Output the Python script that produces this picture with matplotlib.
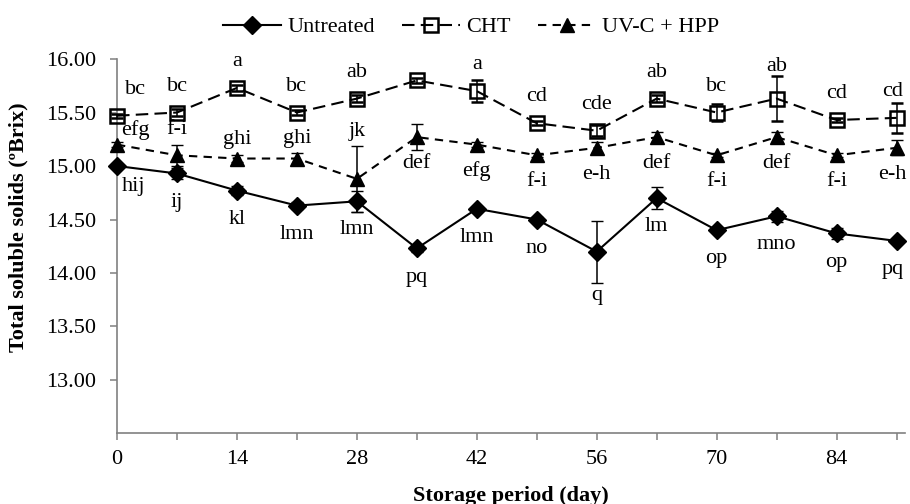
import numpy as np
import matplotlib
matplotlib.use("Agg")
import matplotlib.pyplot as plt
from matplotlib.lines import Line2D

plt.rcParams['font.family'] = ['Liberation Serif', 'DejaVu Serif']

days = [0, 7, 14, 21, 28, 35, 42, 49, 56, 63, 70, 77, 84, 91]

untreated = [15.00, 14.93, 14.77, 14.63, 14.67, 14.23, 14.60, 14.50, 14.20, 14.70, 14.40, 14.53, 14.37, 14.30]
untreated_err = [0.02, 0.05, 0.04, 0.03, 0.10, 0.03, 0.02, 0.02, 0.29, 0.10, 0.02, 0.05, 0.05, 0.02]
untreated_lbl = ['hij', 'ij', 'kl', 'lmn', 'lmn', 'pq', 'lmn', 'no', 'q', 'lm', 'op', 'mno', 'op', 'pq']

cht = [15.47, 15.50, 15.73, 15.50, 15.63, 15.80, 15.70, 15.40, 15.33, 15.63, 15.50, 15.63, 15.43, 15.45]
cht_err = [0.02, 0.03, 0.03, 0.02, 0.03, 0.02, 0.10, 0.02, 0.05, 0.03, 0.08, 0.21, 0.02, 0.14]
cht_lbl = ['bc', 'bc', 'a', 'bc', 'ab', 'a', 'a', 'cd', 'cde', 'ab', 'bc', 'ab', 'cd', 'cd']

uv = [15.20, 15.10, 15.07, 15.07, 14.88, 15.27, 15.20, 15.10, 15.17, 15.27, 15.10, 15.27, 15.10, 15.17]
uv_err = [0.02, 0.10, 0.03, 0.05, 0.31, 0.12, 0.02, 0.02, 0.05, 0.05, 0.02, 0.05, 0.02, 0.07]
uv_lbl = ['efg', 'f-i', 'ghi', 'ghi', 'jk', 'def', 'efg', 'f-i', 'e-h', 'def', 'f-i', 'def', 'f-i', 'e-h']

fig = plt.figure(figsize=(9.1, 5.04), dpi=100)
ax = fig.add_axes([0.1286, 0.1399, 0.866, 0.743])

lw = 1.5
cht_dash = (6, 3)
uv_dash = (4, 3)
eb1 = ax.errorbar(days, untreated, yerr=untreated_err, color='black', lw=lw, marker='D', ms=9.5,
                  capsize=4, elinewidth=1.1, zorder=3)
eb2 = ax.errorbar(days, cht, yerr=cht_err, color='black', lw=lw, marker='s', ms=9.5, mfc='none',
                  mew=1.8, dashes=cht_dash, capsize=4, elinewidth=1.1, zorder=4)
eb3 = ax.errorbar(days, uv, yerr=uv_err, color='black', lw=lw, marker='^', ms=10,
                  dashes=uv_dash, capsize=4, elinewidth=1.1, zorder=3)
for eb in [eb1, eb2, eb3]:
    for art in eb.get_children():
        art.set_clip_on(False)

fs = 16
last = len(days) - 1
for i, d in enumerate(days):
    dx = 0
    if i == 0:
        dx = 13
    elif i == last:
        dx = -3
    # CHT letters above the points
    y = max(cht[i] + 0.205, cht[i] + cht_err[i] + 0.05)
    ax.annotate(cht_lbl[i], (d, y), xytext=(dx, 0), textcoords='offset points',
                ha='center', va='baseline', fontsize=fs)
    # UV-C + HPP letters: above for the first weeks, below afterwards
    if i < 5:
        y = max(uv[i] + 0.14, uv[i] + uv_err[i] + 0.095)
        ax.annotate(uv_lbl[i], (d, y), xytext=(dx, 0 if i else -4), textcoords='offset points',
                    ha='center', va='baseline', fontsize=fs)
    else:
        ax.annotate(uv_lbl[i], (d, uv[i] - 0.29), xytext=(dx, 0), textcoords='offset points',
                    ha='center', va='baseline', fontsize=fs)
    # untreated letters below
    y = min(untreated[i] - 0.31, untreated[i] - untreated_err[i] - 0.16)
    ax.annotate(untreated_lbl[i], (d, y), xytext=(dx * 0.9, 6 if i == 0 else 0), textcoords='offset points',
                ha='center', va='baseline', fontsize=fs)

ax.set_xlim(0, 92)
ax.set_ylim(12.5, 16.0)
ax.set_xticks(range(0, 92, 14))
ax.set_xticks(range(0, 92, 7), minor=True)
yt = np.arange(13.0, 16.01, 0.5)
ax.set_yticks(yt)
ax.set_yticklabels(['%.2f' % v for v in yt])
ax.tick_params(axis='both', which='both', labelsize=16, color='#808080', length=5, width=1.1)
ax.tick_params(axis='x', which='both', pad=7)
ax.tick_params(axis='y', pad=10)
for s in ['top', 'right']:
    ax.spines[s].set_visible(False)
for s in ['left', 'bottom']:
    ax.spines[s].set_color('#808080')
    ax.spines[s].set_linewidth(1.2)

ax.set_xlabel('Storage period (day)', fontsize=16, fontweight='bold', labelpad=12)
ax.set_ylabel('Total soluble solids (ºBrix)', fontsize=16, fontweight='bold')
ax.yaxis.set_label_coords(-0.112, 0.55)

handles = [
    Line2D([], [], color='black', lw=lw, marker='D', ms=9.5),
    Line2D([], [], color='black', lw=lw, marker='s', ms=9.5, mfc='none', mew=1.8, dashes=cht_dash),
    Line2D([], [], color='black', lw=lw, marker='^', ms=10, dashes=uv_dash),
]
labels = ['Untreated', 'CHT', 'UV-C + HPP']
fig.legend(handles, labels, loc='center', bbox_to_anchor=(0.518, 0.946), ncol=3, frameon=False,
           fontsize=16, handlelength=2.6, columnspacing=1.2, handletextpad=0.3, borderaxespad=0)

fig.savefig('out.png', dpi=100)
